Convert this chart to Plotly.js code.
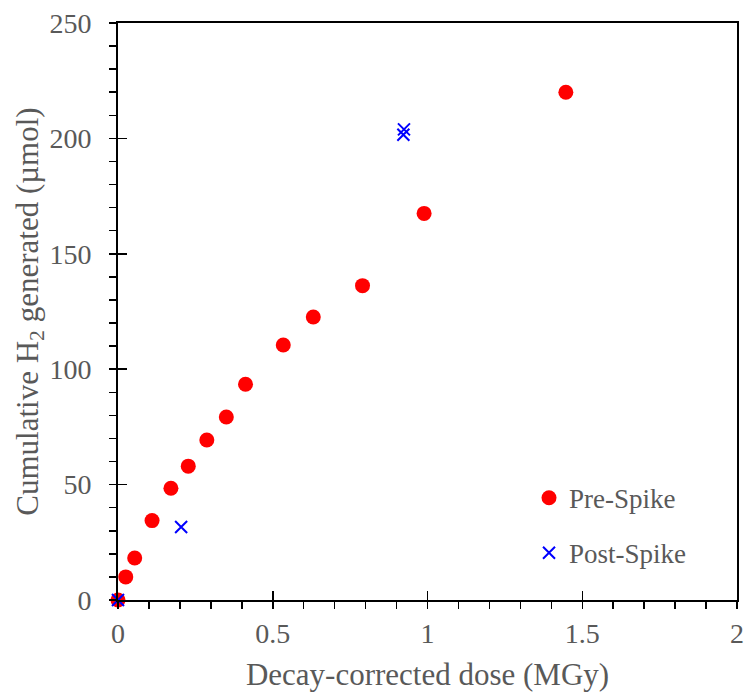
<!DOCTYPE html>
<html>
<head>
<meta charset="utf-8">
<script src="https://cdn.plot.ly/plotly-3.0.1.min.js"></script>
<style>html,body{margin:0;padding:0;background:#fff;}#chart{width:749px;height:694px;}</style>
</head>
<body>
<div id="chart"></div>
<script>
const preDose = [0, 0.025, 0.054, 0.110, 0.171, 0.227, 0.287, 0.350, 0.412, 0.534, 0.631, 0.790, 0.989, 1.447];
const preH2   = [0, 10.0, 18.2, 34.4, 48.4, 58.0, 69.3, 79.3, 93.5, 110.5, 122.6, 136.2, 167.5, 220.0];
const postDose = [0, 0.204, 0.922, 0.924];
const postH2   = [0, 31.6, 201.6, 203.9];
const xTickVals = [0, 0.5, 1, 1.5, 2];
const xTickText = ['0', '0.5', '1', '1.5', '2'];
const yTickVals = [0, 50, 100, 150, 200, 250];
const yTickText = ['0', '50', '100', '150', '200', '250'];

const font = '"Liberation Serif", "Times New Roman", Times, "DejaVu Serif", serif';
const grey = '#595959';

const traces = [
  {x: preDose, y: preH2, name: 'Pre-Spike', type: 'scatter', mode: 'markers',
   legendgroup: 'a', cliponaxis: false,
   marker: {symbol: 'circle', size: 15, color: '#FF0000', line: {width: 0}}},
  {x: postDose, y: postH2, name: 'Post-Spike', type: 'scatter', mode: 'markers',
   legendgroup: 'b', cliponaxis: false,
   marker: {symbol: 'x-thin', size: 12, color: '#0000FF', line: {width: 2, color: '#0000FF'}}},
  {x: [0], y: [0], xaxis: 'x2', yaxis: 'y2', mode: 'markers', showlegend: false,
   hoverinfo: 'skip', marker: {opacity: 0}}
];

const layout = {
  width: 749, height: 694,
  margin: {l: 118, r: 12, t: 23, b: 94},
  paper_bgcolor: '#fff', plot_bgcolor: '#fff',
  font: {family: font, color: grey},
  showlegend: true,
  legend: {x: 0.664, y: 0.219, xanchor: 'left', yanchor: 'top',
           font: {family: font, size: 27, color: grey},
           tracegroupgap: 17, itemwidth: 30, bgcolor: 'rgba(0,0,0,0)'},
  xaxis: {range: [0, 2], tickvals: xTickVals, ticktext: xTickText,
          ticks: 'outside', ticklen: 7, tickwidth: 1.5, tickcolor: '#000',
          minor: {dtick: 0.1, ticks: 'outside', ticklen: 7, tickwidth: 1.5, tickcolor: '#000'},
          showline: true, linecolor: '#000', linewidth: 2, mirror: true,
          showgrid: false, zeroline: false,
          tickfont: {family: font, size: 28, color: grey},
          title: {text: 'Decay-corrected dose (MGy)', font: {family: font, size: 31, color: grey}, standoff: 16}},
  yaxis: {range: [0, 250], tickvals: yTickVals, ticktext: yTickText,
          ticks: 'outside', ticklen: 7, tickwidth: 1.5, tickcolor: '#000',
          ticklabelstandoff: 12,
          minor: {dtick: 10, ticks: 'outside', ticklen: 7, tickwidth: 1.5, tickcolor: '#000'},
          showline: true, linecolor: '#000', linewidth: 2, mirror: true,
          showgrid: false, zeroline: false,
          tickfont: {family: font, size: 28, color: grey},
          title: {text: 'Cumulative H<sub>2</sub> generated (µmol)', font: {family: font, size: 31, color: grey}, standoff: 0}},
  xaxis2: {overlaying: 'x', range: [0, 2], tickvals: xTickVals, showticklabels: false,
           ticks: 'inside', ticklen: 9, tickwidth: 1.5, tickcolor: '#000',
           showline: false, showgrid: false, zeroline: false},
  yaxis2: {overlaying: 'y', range: [0, 250], tickvals: yTickVals, showticklabels: false,
           ticks: 'inside', ticklen: 9, tickwidth: 1.5, tickcolor: '#000',
           showline: false, showgrid: false, zeroline: false}
};

Plotly.newPlot('chart', traces, layout, {displayModeBar: false, staticPlot: true});
</script>
</body>
</html>
